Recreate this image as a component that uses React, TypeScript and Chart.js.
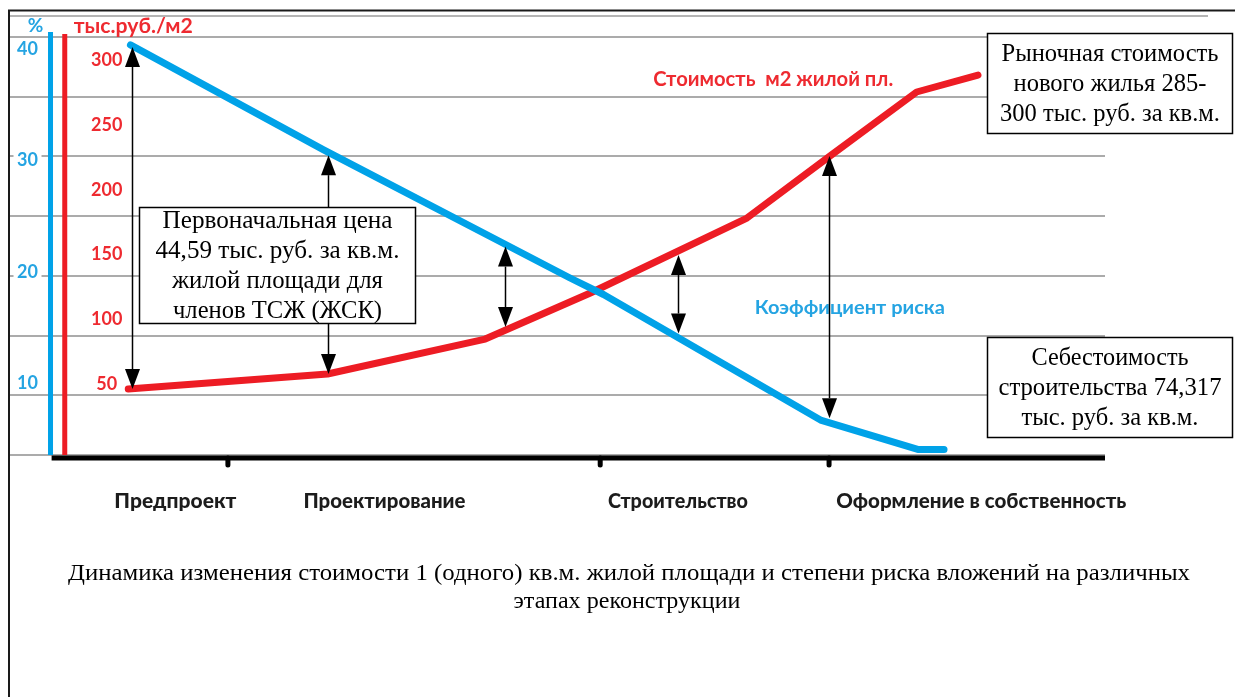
import React, { useEffect, useRef } from 'react';
import { Chart, registerables } from 'chart.js';

Chart.register(...registerables);

// ---- data -------------------------------------------------------------
// x: progress through the reconstruction stages (0–100)
const stageNames = ['Предпроект', 'Проектирование', 'Строительство', 'Оформление в собственность'];
const stageLabelPos = [15.1, 34.2, 61.0, 88.7];
const stageTickPos = [19.9, 53.9, 74.8];

const pctTicks = [10, 20, 30, 40];
const rubTicks = [50, 100, 150, 200, 250, 300];
const gridSteps = [0, 1, 2, 3, 4, 5, 6, 7];

// risk coefficient, %
const riskX = [11.0, 28.6, 51.1, 54.2, 74.1, 82.9, 85.3];
const riskPct = [40.3, 30.9, 19.4, 17.9, 6.6, 4.0, 4.0];

// price of 1 m2 of living space, thousand rub.
const priceX = [10.8, 29.0, 43.4, 53.0, 67.3, 74.9, 82.8, 88.4];
const priceRub = [46.0, 57.6, 84.6, 120.2, 178.1, 226.1, 275.5, 288.6];

// ---- annotations (in data units) ---------------------------------------
const arrows = [
  { x: 11.1, from: ['rub', 46.0], to: ['pct', 40.1], heads: [true, true] },
  { x: 29.0, from: ['pct', 25.7], to: ['pct', 30.4], heads: [false, true] },
  { x: 29.0, from: ['rub', 97.0], to: ['rub', 57.6], heads: [false, true] },
  { x: 45.2, from: ['pct', 22.2], to: ['rub', 93.9], heads: [true, true] },
  { x: 61.0, from: ['rub', 149.5], to: ['pct', 14.4], heads: [true, true] },
  { x: 74.8, from: ['rub', 226.1], to: ['pct', 6.8], heads: [true, true] },
];

const boxes = [
  {
    x0: 11.8, x1: 37.0, top: 186.6, bottom: 97.0,
    lines: ['Первоначальная цена', '44,59 тыс. руб. за кв.м.', 'жилой площади для', 'членов ТСЖ (ЖСК)'],
    widths: [230, 244, 211, 209],
  },
  {
    x0: 89.2, x1: 111.6, top: 321.1, bottom: 243.8,
    lines: ['Рыночная стоимость', 'нового жилья 285-', '300 тыс. руб. за кв.м.'],
    widths: [217, 193, 220],
  },
  {
    x0: 89.2, x1: 111.6, top: 86.2, bottom: 8.9,
    lines: ['Себестоимость', 'строительства 74,317', 'тыс. руб. за кв.м.'],
    widths: [157, 223, 177],
  },
];

const captionLines = [
  'Динамика изменения стоимости 1 (одного) кв.м. жилой площади и степени риска вложений на различных',
  'этапах реконструкции',
];

const BLUE = '#00A2E8';
const RED = '#ED1C24';
const BLUE_TXT = '#25A4E2';
const RED_TXT = '#EE2A30';

function fitText(ctx: CanvasRenderingContext2D, text: string, cx: number, cy: number, width: number, font: string, color: string, align: 'center' | 'left' = 'center') {
  ctx.save();
  ctx.font = font;
  ctx.fillStyle = color;
  ctx.textBaseline = 'middle';
  ctx.textAlign = align;
  const w = ctx.measureText(text).width;
  const sx = width ? width / w : 1;
  ctx.translate(cx, cy);
  ctx.scale(sx, 1);
  ctx.fillText(text, 0, 0);
  ctx.restore();
}

function drawArrow(ctx: CanvasRenderingContext2D, x: number, y1: number, y2: number, h1: boolean, h2: boolean) {
  const L = 20, W = 7.5;
  const dir = y2 > y1 ? 1 : -1;
  const a = h1 ? y1 + dir * L : y1;
  const b = h2 ? y2 - dir * L : y2;
  ctx.save();
  ctx.strokeStyle = '#000';
  ctx.fillStyle = '#000';
  ctx.lineWidth = 1.5;
  ctx.beginPath();
  ctx.moveTo(x, a);
  ctx.lineTo(x, b);
  ctx.stroke();
  const head = (tipY: number, d: number) => {
    ctx.beginPath();
    ctx.moveTo(x, tipY);
    ctx.lineTo(x - W, tipY - d * L);
    ctx.lineTo(x + W, tipY - d * L);
    ctx.closePath();
    ctx.fill();
  };
  if (h1) head(y1, -dir);
  if (h2) head(y2, dir);
  ctx.restore();
}

const decor = {
  id: 'decor',
  beforeDraw(chart: any) {
    const ctx = chart.ctx as CanvasRenderingContext2D;
    ctx.save();
    ctx.fillStyle = '#fff';
    ctx.fillRect(0, 0, chart.width, chart.height);
    ctx.strokeStyle = '#1a1a1a';
    ctx.lineWidth = 2;
    ctx.beginPath();
    ctx.moveTo(9, chart.height);
    ctx.lineTo(9, 10.5);
    ctx.lineTo(chart.width, 10.5);
    ctx.stroke();
    ctx.strokeStyle = '#b4b4b4';
    ctx.beginPath();
    ctx.moveTo(10, 16);
    ctx.lineTo(1208, 16);
    ctx.stroke();
    ctx.restore();
  },
  beforeDatasetsDraw(chart: any) {
    const ctx = chart.ctx as CanvasRenderingContext2D;
    const { left, right } = chart.chartArea;
    const g = chart.scales.grid;
    ctx.save();
    ctx.strokeStyle = '#ababab';
    ctx.lineWidth = 2;
    gridSteps.forEach((v) => {
      const y = Math.round(g.getPixelForValue(v));
      ctx.beginPath();
      ctx.moveTo(left, y);
      ctx.lineTo(right, y);
      ctx.stroke();
    });
    ctx.restore();
  },
  afterDatasetsDraw(chart: any) {
    const ctx = chart.ctx as CanvasRenderingContext2D;
    const { top, bottom } = chart.chartArea;
    const xs = chart.scales.x, pct = chart.scales.pct, rub = chart.scales.rub;
    const sc: any = { pct, rub };
    const px = (v: number) => xs.getPixelForValue(v);

    // value axes
    const blueX = px(3.7), redX = px(5.0);
    ctx.save();
    ctx.lineWidth = 5;
    ctx.strokeStyle = BLUE;
    ctx.beginPath(); ctx.moveTo(blueX, top - 5); ctx.lineTo(blueX, bottom); ctx.stroke();
    ctx.strokeStyle = RED;
    ctx.beginPath(); ctx.moveTo(redX, top - 3); ctx.lineTo(redX, bottom); ctx.stroke();

    // stage axis
    ctx.strokeStyle = '#000';
    ctx.lineWidth = 5;
    ctx.beginPath(); ctx.moveTo(px(3.8), bottom + 3); ctx.lineTo(px(100), bottom + 3); ctx.stroke();
    ctx.lineCap = 'round';
    stageTickPos.forEach((v) => {
      const x = px(v);
      ctx.beginPath(); ctx.moveTo(x, bottom + 3); ctx.lineTo(x, bottom + 10); ctx.stroke();
    });
    ctx.restore();

    stageNames.forEach((name, i) => {
      const widths = [122, 162, 140, 290];
      fitText(ctx, name, px(stageLabelPos[i]), bottom + 47, widths[i], '900 20px Lato', '#1c1c1c');
    });

    // tick labels
    const pTicks = pct.ticks && pct.ticks.length ? pct.ticks.map((t: any) => t.value) : pctTicks;
    pTicks.forEach((v: number) => {
      const y = pct.getPixelForValue(v);
      ctx.save();
      ctx.fillStyle = '#fff';
      ctx.fillRect(blueX - 37, y - 10, 28, 20);
      ctx.restore();
      fitText(ctx, String(v), blueX - 23, y + 1, 0, 'bold 18px Lato', BLUE_TXT);
    });
    const rTicks = rub.ticks && rub.ticks.length ? rub.ticks.map((t: any) => t.value) : rubTicks;
    rTicks.forEach((v: number) => {
      fitText(ctx, String(v), redX + 42, rub.getPixelForValue(v), 0, 'bold 18px Lato', RED_TXT);
    });

    // axis titles
    fitText(ctx, '%', blueX - 15, top - 11, 0, 'bold 19px Lato', BLUE_TXT);
    fitText(ctx, 'тыс.руб./м2', redX + 9, top - 11, 119, 'bold 21px Lato', RED_TXT, 'left');

    // series labels
    fitText(ctx, 'Стоимость  м2 жилой пл.', px(69.7), rub.getPixelForValue(284.8), 240, 'bold 20px Lato', RED_TXT);
    fitText(ctx, 'Коэффициент риска', px(76.7), pct.getPixelForValue(16.7), 190, 'bold 19px Lato', BLUE_TXT);

    // arrows
    arrows.forEach((a) => {
      const y1 = sc[a.from[0] as string].getPixelForValue(a.from[1]);
      const y2 = sc[a.to[0] as string].getPixelForValue(a.to[1]);
      drawArrow(ctx, Math.round(px(a.x)) + 0.5, y1, y2, a.heads[0], a.heads[1]);
    });

    // text boxes
    boxes.forEach((b) => {
      const x0 = Math.round(px(b.x0)) + 0.5, x1 = Math.round(px(b.x1)) + 0.5;
      const y0 = Math.round(rub.getPixelForValue(b.top)) + 0.5, y1 = Math.round(rub.getPixelForValue(b.bottom)) + 0.5;
      ctx.save();
      ctx.fillStyle = '#fff';
      ctx.fillRect(x0, y0, x1 - x0, y1 - y0);
      ctx.strokeStyle = '#000';
      ctx.lineWidth = 1.5;
      ctx.strokeRect(x0, y0, x1 - x0, y1 - y0);
      ctx.restore();
      const cx = (x0 + x1) / 2, cy = (y0 + y1) / 2;
      const n = b.lines.length;
      b.lines.forEach((t, i) => {
        fitText(ctx, t, cx, cy + (i - (n - 1) / 2) * 30 + 1, b.widths[i], '25px "Liberation Serif"', '#000');
      });
    });

    // caption
    fitText(ctx, captionLines[0], 629, 574, 1122, '23px "Liberation Serif"', '#000');
    fitText(ctx, captionLines[1], 627, 602, 227, '23px "Liberation Serif"', '#000');
  },
};

export default function App() {
  const ref = useRef<HTMLCanvasElement | null>(null);
  useEffect(() => {
    if (!ref.current) return;
    const chart = new Chart(ref.current, {
      type: 'line',
      data: {
        datasets: [
          {
            label: 'Коэффициент риска',
            data: riskX.map((x, i) => ({ x, y: riskPct[i] })),
            yAxisID: 'pct',
            borderColor: BLUE,
            borderWidth: 7,
            pointRadius: 0,
            tension: 0,
            borderCapStyle: 'round',
            borderJoinStyle: 'round',
          },
          {
            label: 'Стоимость м2 жилой пл.',
            data: priceX.map((x, i) => ({ x, y: priceRub[i] })),
            yAxisID: 'rub',
            borderColor: RED,
            borderWidth: 7,
            pointRadius: 0,
            tension: 0,
            borderCapStyle: 'round',
            borderJoinStyle: 'round',
          },
        ],
      },
      options: {
        animation: false,
        responsive: false,
        layout: { padding: { left: 10, top: 37, right: 130, bottom: 242 } },
        plugins: { legend: { display: false }, tooltip: { enabled: false } },
        scales: {
          x: { type: 'linear', min: 0, max: 100, display: false },
          pct: {
            type: 'linear', position: 'left', min: 3.5, max: 41, display: false,
            afterBuildTicks: (s: any) => { s.ticks = pctTicks.map((v) => ({ value: v })); },
          },
          rub: {
            type: 'linear', position: 'left', min: -5, max: 318, display: false,
            afterBuildTicks: (s: any) => { s.ticks = rubTicks.map((v) => ({ value: v })); },
          },
          grid: {
            type: 'linear', position: 'right', min: 0, max: 7, display: false,
            afterBuildTicks: (s: any) => { s.ticks = gridSteps.map((v) => ({ value: v })); },
          },
        },
      } as any,
      plugins: [decor],
    });
    return () => chart.destroy();
  }, []);
  return (
    <div style={{ position: 'absolute', left: 0, top: 0, width: 1235, height: 697 }}>
      <canvas ref={ref} width={1235} height={697} />
    </div>
  );
}
